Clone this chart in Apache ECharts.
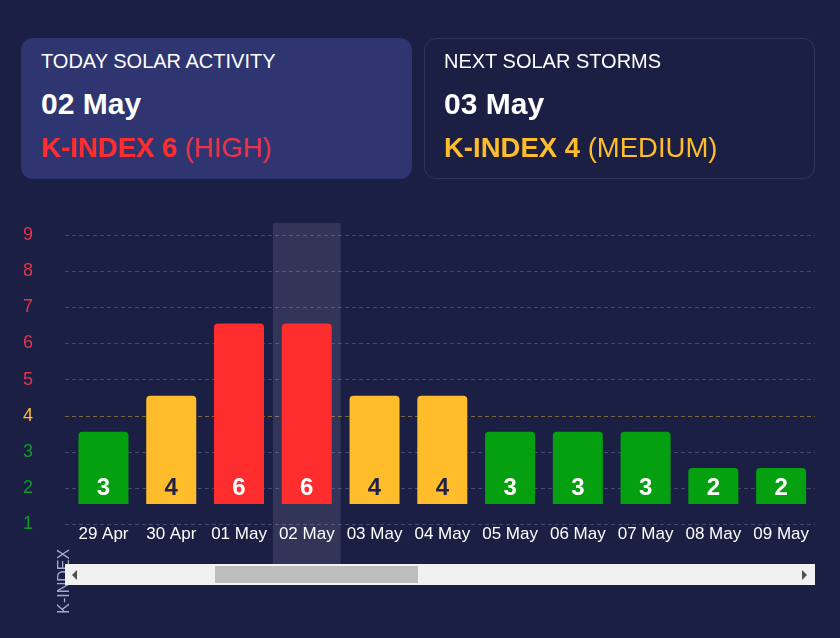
<!DOCTYPE html>
<html>
<head>
<meta charset="utf-8">
<title>K-index</title>
<script src="https://cdn.jsdelivr.net/npm/echarts@6/dist/echarts.min.js"></script>
<style>
html, body { margin: 0; padding: 0; background: #1b1f44; }
body { width: 840px; height: 638px; position: relative; overflow: hidden; font-family: "Liberation Sans", Arial, sans-serif; color: #fff; }
#chart { position: absolute; left: 0; top: 0; width: 815px; height: 638px; }
.card { position: absolute; top: 38px; width: 391px; height: 141px; box-sizing: border-box; border-radius: 12px; padding-left: 20px; }
.card.today { left: 21px; background: #2f3570; }
.card.next { left: 424px; border: 1px solid #30355f; padding-left: 19px; }
.card div { position: absolute; white-space: nowrap; }
.card .head { top: 11px; font-size: 20px; line-height: 24px; }
.card .date { top: 48px; font-size: 30px; line-height: 36px; font-weight: bold; }
.card .level { top: 92px; font-size: 27.5px; line-height: 36px; }
.card.next .head { top: 10px; }
.card.next .date { top: 47px; }
.card.next .level { top: 91px; }
.level b { font-weight: bold; }
.red { color: #ff2d2d; }
.red span { color: #e8334a; }
.orange { color: #ffbd2c; }
.track { position: absolute; left: 65px; top: 564px; width: 750px; height: 21px; background: #f1f1f1; }
.thumb { position: absolute; left: 150px; top: 2px; width: 203px; height: 17px; background: #bdbdbd; }
.arrow { position: absolute; top: 6px; width: 0; height: 0; border-top: 5px solid transparent; border-bottom: 5px solid transparent; }
.arrow.left { left: 7px; border-right: 5px solid #505050; }
.arrow.right { right: 8px; border-left: 5px solid #505050; }
</style>
</head>
<body>
<div id="chart"></div>
<div class="card today">
	<div class="head">TODAY SOLAR ACTIVITY</div>
	<div class="date">02 May</div>
	<div class="level red"><b>K-INDEX 6</b> <span>(HIGH)</span></div>
</div>
<div class="card next">
	<div class="head">NEXT SOLAR STORMS</div>
	<div class="date">03 May</div>
	<div class="level orange"><b>K-INDEX 4</b> <span>(MEDIUM)</span></div>
</div>
<div class="track">
	<div class="arrow left"></div>
	<div class="thumb"></div>
	<div class="arrow right"></div>
</div>
<script>
'use strict';
var dates = ['29 Apr', '30 Apr', '01 May', '02 May', '03 May', '04 May', '05 May', '06 May', '07 May', '08 May', '09 May'];
var kIndex = [3, 4, 6, 6, 4, 4, 3, 3, 3, 2, 2];
var today = '02 May';
var levels = [1, 2, 3, 4, 5, 6, 7, 8, 9];

var green = '#04a00f', orange = '#ffbd2c', red = '#ff2d2d';

function barColor(v) {
	return v >= 5 ? red : v === 4 ? orange : green;
}
function tickColor(v) {
	return v >= 5 ? '#e8334a' : v === 4 ? orange : '#0e9a26';
}
function lineColor(v) {
	return v >= 5 ? 'rgba(232,51,90,0.55)' : v === 4 ? 'rgba(255,189,44,0.45)' : 'rgba(150,160,190,0.35)';
}

var barLeft = 69.6, barWidth = 756.8;

var myChart = echarts.init(document.getElementById('chart'));
var option = {
	animation: false,
	backgroundColor: 'transparent',
	textStyle: {fontFamily: '"Liberation Sans", Arial, sans-serif'},
	grid: [
		// 0: scale and grid lines
		{left: 65, width: 750, top: 199, height: 361.25},
		// 1: bars, they stand on a baseline above the labels
		{left: barLeft, width: barWidth, top: 179, height: 325},
		// 2: highlight band of today
		{left: barLeft, width: barWidth, top: 223, height: 342}
	],
	xAxis: [
		{gridIndex: 0, type: 'value', show: false, min: 0, max: 1},
		{
			gridIndex: 1,
			type: 'category',
			data: dates,
			axisLine: {show: false},
			axisTick: {show: false},
			axisLabel: {interval: 0, color: '#fff', fontSize: 17, margin: 22, hideOverlap: false}
		},
		{
			gridIndex: 2,
			type: 'category',
			data: dates,
			axisLine: {show: false},
			axisTick: {show: false},
			axisLabel: {show: false},
			axisPointer: {
				show: true,
				type: 'shadow',
				value: today,
				status: 'show',
				z: 0,
				label: {show: false},
				shadowStyle: {color: 'rgba(255,255,255,0.1)'}
			}
		}
	],
	yAxis: [
		{
			gridIndex: 0,
			type: 'value',
			min: 0,
			max: 10,
			interval: 1,
			name: 'K-INDEX',
			nameLocation: 'start',
			nameRotate: 90,
			nameGap: 21,
			nameTextStyle: {color: '#a3abcb', fontSize: 16, align: 'center', verticalAlign: 'middle', padding: [0, 0, 0, 0]},
			axisLine: {show: false},
			axisTick: {show: false},
			axisLabel: {
				showMinLabel: false,
				showMaxLabel: false,
				align: 'center',
				margin: 37,
				fontSize: 18,
				color: function (v) { return tickColor(+v); }
			},
			splitLine: {
				showMinLine: false,
				showMaxLine: false,
				lineStyle: {type: [4, 3], width: 1, color: levels.map(lineColor)}
			}
		},
		{gridIndex: 1, type: 'value', show: false, min: 1, max: 10, interval: 1, splitLine: {show: false}},
		{gridIndex: 2, type: 'value', show: false, min: 0, max: 1, splitLine: {show: false}}
	],
	series: [
		{
			name: 'K-INDEX',
			type: 'bar',
			xAxisIndex: 1,
			yAxisIndex: 1,
			barWidth: 50,
			z: 3,
			data: kIndex.map(function (v) {
				return {
					value: v,
					itemStyle: {color: barColor(v), borderRadius: [4, 4, 0, 0]},
					label: {color: v === 4 ? '#1f2147' : '#fff'}
				};
			}),
			label: {show: true, position: 'insideBottom', distance: 4, fontSize: 24, fontWeight: 'bold'}
		}
	]
};
myChart.setOption(option);
</script>
</body>
</html>
